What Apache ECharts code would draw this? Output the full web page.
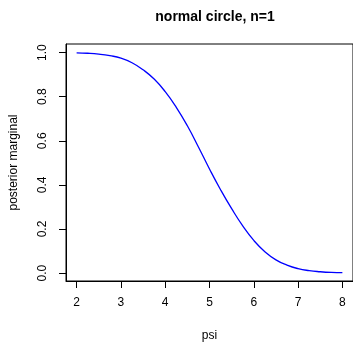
<!DOCTYPE html>
<html>
<head>
<meta charset="utf-8">
<script src="https://cdn.jsdelivr.net/npm/echarts@6/dist/echarts.min.js"></script>
<style>
  html, body { margin: 0; padding: 0; background: #fff; }
  #chart { width: 353px; height: 347px; }
</style>
</head>
<body>
<div id="chart"></div>
<script>
// values
var psi = [2.00, 2.25, 2.50, 2.75, 3.00, 3.25, 3.50, 3.75, 4.00, 4.25, 4.50, 4.75, 5.00,
           5.25, 5.50, 5.75, 6.00, 6.25, 6.50, 6.75, 7.00, 7.25, 7.50, 7.75, 8.00]
var marginal = [0.999, 0.997, 0.993, 0.986, 0.975, 0.954, 0.922, 0.880, 0.823, 0.752, 0.668, 0.572, 0.472,
                0.378, 0.292, 0.214, 0.148, 0.097, 0.060, 0.036, 0.020, 0.011, 0.006, 0.003, 0.002]
var xTicks = [2, 3, 4, 5, 6, 7, 8]
var yTicks = [0, 0.2, 0.4, 0.6, 0.8, 1.0]

var font = 'Liberation Sans, Arial, sans-serif'

var chart = echarts.init(document.getElementById('chart'), null, { renderer: 'canvas' })

chart.setOption({
    animation: false,
    title: {
        text: 'normal circle, n=1',
        left: 210,
        top: 5,
        textAlign: 'center',
        textStyle: { fontFamily: font, fontSize: 14, fontWeight: 'bold', color: '#000' }
    },
    grid: {
        left: 66,
        top: 44,
        width: 289,
        height: 242,
        show: true,
        borderColor: '#000',
        borderWidth: 1,
        backgroundColor: 'transparent'
    },
    xAxis: {
        type: 'value',
        min: 1.76,
        max: 8.24,
        name: 'psi',
        nameLocation: 'middle',
        nameGap: 49,
        nameTextStyle: { fontFamily: font, fontSize: 12, color: '#000' },
        splitLine: { show: false },
        axisLine: { show: true, onZero: false, lineStyle: { color: '#000', width: 1 } },
        axisTick: { show: true, length: 7, customValues: xTicks, lineStyle: { color: '#000' } },
        axisLabel: {
            customValues: xTicks,
            margin: 16,
            fontFamily: font, fontSize: 12, color: '#000',
            showMinLabel: true, showMaxLabel: true
        }
    },
    yAxis: {
        type: 'value',
        min: -0.036,
        max: 1.039,
        name: 'posterior marginal',
        nameLocation: 'middle',
        nameGap: 46,
        nameRotate: 90,
        nameTextStyle: { fontFamily: font, fontSize: 12, color: '#000' },
        splitLine: { show: false },
        axisLine: { show: true, onZero: false, lineStyle: { color: '#000', width: 1 } },
        axisTick: { show: true, length: 7, customValues: yTicks, lineStyle: { color: '#000' } },
        axisLabel: {
            customValues: yTicks,
            rotate: 90,
            margin: 17,
            fontFamily: font, fontSize: 12, color: '#000',
            formatter: function (v) { return v.toFixed(1) },
            showMinLabel: true, showMaxLabel: true
        }
    },
    series: [{
        type: 'line',
        data: psi.map(function (x, i) { return [x, marginal[i]] }),
        showSymbol: false,
        smooth: 0.5,
        lineStyle: { color: '#0000ff', width: 1.3 },
        itemStyle: { color: '#0000ff' }
    }]
})
</script>
</body>
</html>
